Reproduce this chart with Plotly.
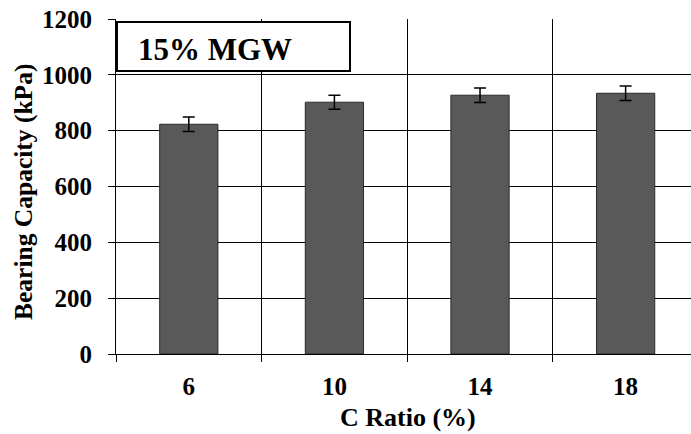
import plotly.graph_objects as go

categories = ["6", "10", "14", "18"]
bearing = [823, 902, 927, 934]
err = [26, 25, 26, 26]
y_ticks = [0, 200, 400, 600, 800, 1000, 1200]

FONT = "Liberation Serif"
L, R, T, B = 116, 0, 19, 80
W, H = 691, 434
pw, ph = W - L - R, H - T - B

def px_x(x):
    return (x - L) / pw

def px_y(y):
    return (H - B - y) / ph

fig = go.Figure(go.Bar(
    x=categories, y=bearing,
    marker=dict(color="#595959", line=dict(color="#2a2a2a", width=1)),
    width=0.4,
    error_y=dict(type="data", array=err, visible=True, color="black", thickness=1.5, width=6),
))

fig.update_layout(
    width=W, height=H,
    margin=dict(l=L, r=R, t=T, b=B, pad=0),
    paper_bgcolor="white", plot_bgcolor="white",
    showlegend=False,
    font=dict(family=FONT, color="black"),
    xaxis=dict(
        type="category", range=[-0.5, 3.449],
        tickson="boundaries", ticks="outside", ticklen=7, tickcolor="black", tickwidth=1,
        showgrid=True, gridcolor="black", gridwidth=1,
        showline=True, linecolor="black", linewidth=1,
        tickfont=dict(family=FONT, size=25, color="black", weight="bold"),
        ticklabelstandoff=10,
    ),
    yaxis=dict(
        range=[0, 1200], tickvals=y_ticks,
        ticks="outside", ticklen=7, tickcolor="black", tickwidth=1,
        showgrid=True, gridcolor="black", gridwidth=1,
        showline=True, linecolor="black", linewidth=1,
        zeroline=False,
        tickfont=dict(family=FONT, size=25, color="black", weight="bold"),
        ticklabelstandoff=11,
    ),
    shapes=[dict(
        type="rect", xref="paper", yref="paper",
        x0=px_x(117), x1=px_x(350), y0=px_y(71), y1=px_y(22),
        line=dict(color="black", width=2), fillcolor="white", layer="above",
    )],
    annotations=[
        dict(text="<b>15% MGW</b>", xref="paper", yref="paper",
             x=px_x(136), y=px_y(50), xanchor="left", yanchor="middle",
             showarrow=False, font=dict(family=FONT, size=31, color="black")),
        dict(text="<b>Bearing Capacity (kPa)</b>", xref="paper", yref="paper",
             x=px_x(23), y=px_y(192), xanchor="center", yanchor="middle", textangle=-90,
             showarrow=False, font=dict(family=FONT, size=25.5, color="black")),
        dict(text="<b>C Ratio (%)</b>", xref="paper", yref="paper",
             x=px_x(408.5), y=px_y(417), xanchor="center", yanchor="middle",
             showarrow=False, font=dict(family=FONT, size=26, color="black")),
    ],
)

fig.write_html("out.html")
